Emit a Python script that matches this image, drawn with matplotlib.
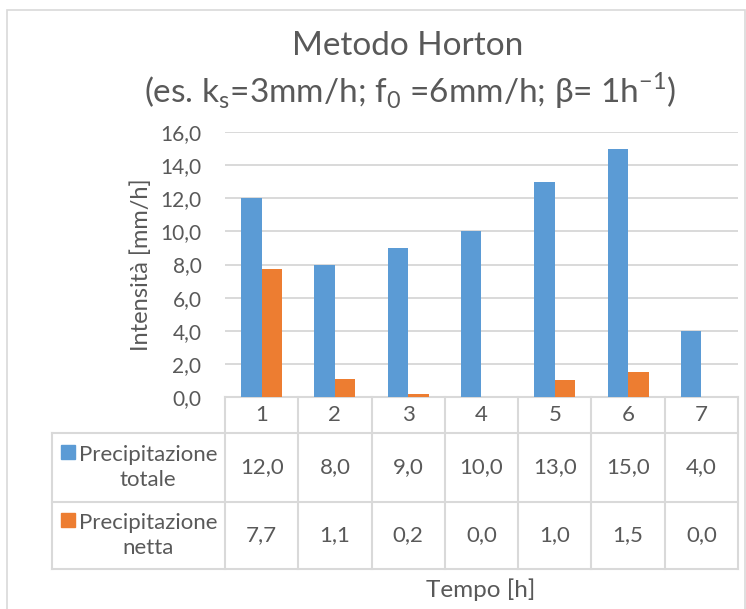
import numpy as np
import matplotlib
matplotlib.use("Agg")
import matplotlib.pyplot as plt
from matplotlib.transforms import blended_transform_factory
from matplotlib.patches import Rectangle

'''
DATI
'''
tempo = ["1", "2", "3", "4", "5", "6", "7"]
prec_totale = [12.0, 8.0, 9.0, 10.0, 13.0, 15.0, 4.0]
prec_netta = [7.7, 1.1, 0.2, 0.0, 1.0, 1.5, 0.0]
serie = ["Precipitazione\ntotale", "Precipitazione\nnetta"]
y_ticks = [0, 2, 4, 6, 8, 10, 12, 14, 16]

BLU = "#5b9bd5"
ARANCIO = "#ed7d31"
TESTO = "#595959"
GRIGLIA = "#d9d9d9"

plt.rcParams['font.family'] = ['Lato', 'DejaVu Sans']
plt.rcParams['mathtext.fontset'] = 'custom'
plt.rcParams['mathtext.rm'] = 'Lato'

W, H = 746, 609
fig = plt.figure(figsize=(W / 100, H / 100), dpi=100)

# area del grafico in pixel
x0, x1 = 225, 738
y_top, y_bot = 132, 397
ax = fig.add_axes([x0 / W, (H - y_bot) / H, (x1 - x0) / W, (y_bot - y_top) / H])

'''
BARRE
'''
x = np.arange(len(tempo))
w = 0.28
ax.bar(x - w / 2, prec_totale, w, color=BLU, zorder=3)
ax.bar(x + w / 2, prec_netta, w, color=ARANCIO, zorder=3)

ax.set_xlim(-0.5, len(tempo) - 0.5)
ax.set_ylim(0, 16)
ax.set_yticks(y_ticks)
ax.set_yticklabels([f"{v:.1f}".replace(".", ",") for v in y_ticks])
ax.set_xticks([])
ax.tick_params(axis='y', length=0, pad=17, labelsize=15, labelcolor=TESTO)
for s in ax.spines.values():
    s.set_visible(False)
ax.grid(axis='y', color=GRIGLIA, lw=1.4, zorder=0)
ax.set_ylabel("Intensità [mm/h]", fontsize=17, color=TESTO, labelpad=6)

'''
TABELLA DATI
'''
trans = blended_transform_factory(ax.transData, ax.transAxes)
hpx = y_bot - y_top
def yf(p):
    return (y_bot - p) / hpx
def xf(p):
    return (p - x0) / (x1 - x0)

lkw = dict(color=GRIGLIA, lw=1.5, clip_on=False, zorder=1)
# linee orizzontali
ax.plot([-0.5, len(tempo) - 0.5], [yf(397), yf(397)], transform=trans, **lkw)
for yy in [433, 502, 569]:
    ax.plot([xf(52), 1], [yf(yy), yf(yy)], transform=ax.transAxes, **lkw)
# linee verticali
for k in range(len(tempo) + 1):
    ax.plot([k - 0.5, k - 0.5], [yf(397), yf(569)], transform=trans, **lkw)
ax.plot([xf(52), xf(52)], [yf(433), yf(569)], transform=ax.transAxes, **lkw)

tkw = dict(ha='center', va='center', fontsize=16, color=TESTO, transform=trans)
for i, t in enumerate(tempo):
    ax.text(i, yf(415), t, **tkw)
    ax.text(i, yf(467.5), f"{prec_totale[i]:.1f}".replace(".", ","), **tkw)
    ax.text(i, yf(535.5), f"{prec_netta[i]:.1f}".replace(".", ","), **tkw)

for nome, col, yc, ysq in [(serie[0], BLU, 467.5, 445), (serie[1], ARANCIO, 535.5, 513)]:
    ax.text(xf(79), yf(yc), nome, ha='left', va='center', multialignment='center',
            fontsize=16, color=TESTO, linespacing=1.3, transform=ax.transAxes)
    ax.add_patch(Rectangle((xf(61), yf(ysq + 14)), xf(75) - xf(61), yf(ysq) - yf(ysq + 14),
                           color=col, transform=ax.transAxes, clip_on=False))

fig.text(481 / W, 1 - 590 / H, "Tempo [h]", ha='center', va='center', fontsize=17.5, color=TESTO)

'''
TITOLO
'''
fig.text(408 / W, 1 - 46 / H, "Metodo Horton", ha='center', va='center', fontsize=24, color=TESTO)
fig.text(410 / W, 1 - 91 / H,
         r"(es. k$_\mathregular{s}$=3mm/h; f$_\mathregular{0}$ =6mm/h; β= 1h$^\mathregular{-1}$)",
         ha='center', va='center', fontsize=24, color=TESTO)

# bordo esterno
fig.patches.append(Rectangle((7 / W, -0.05), (745 - 7) / W, 1 - 10 / H + 0.05,
                             transform=fig.transFigure, fill=False, ec=GRIGLIA, lw=1.2))

plt.savefig("out.png", dpi=100)
